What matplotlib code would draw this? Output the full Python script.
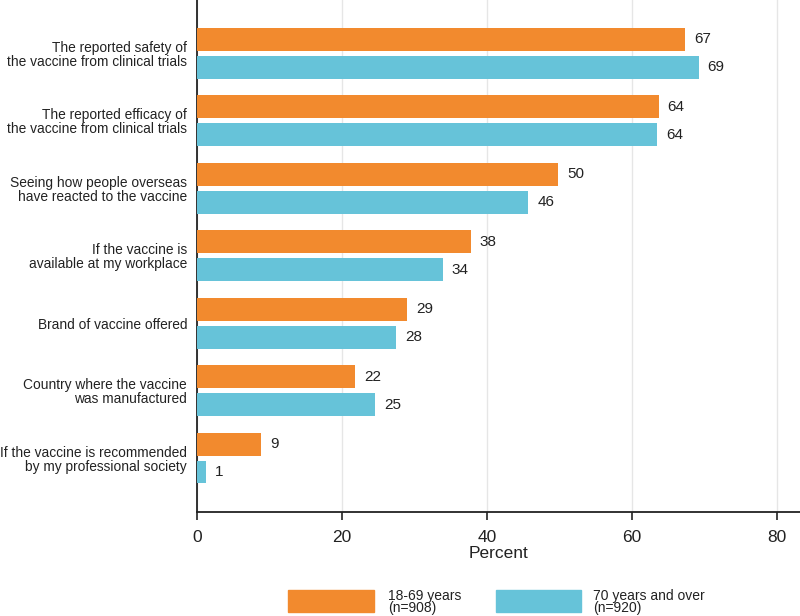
import matplotlib
matplotlib.use("Agg")
import matplotlib.pyplot as plt
import numpy as np
from matplotlib.patches import Rectangle

plt.rcParams['font.family'] = ['Liberation Sans', 'DejaVu Sans']

categories = [
    "The reported safety of\nthe vaccine from clinical trials",
    "The reported efficacy of\nthe vaccine from clinical trials",
    "Seeing how people overseas\nhave reacted to the vaccine",
    "If the vaccine is\navailable at my workplace",
    "Brand of vaccine offered",
    "Country where the vaccine\nwas manufactured",
    "If the vaccine is recommended\nby my professional society",
]
young = [67.4, 63.7, 49.8, 37.8, 29.0, 21.8, 8.9]
old = [69.2, 63.5, 45.7, 33.9, 27.5, 24.6, 1.2]
young_labels = [67, 64, 50, 38, 29, 22, 9]
old_labels = [69, 64, 46, 34, 28, 25, 1]
series_names = ["18-69 years\n(n=908)", "70 years and over\n(n=920)"]
xticks = [0, 20, 40, 60, 80]

c_orange = "#F28A2E"
c_blue = "#66C3D9"
txt = "#222222"

fig = plt.figure(figsize=(8, 6.16), dpi=100)
ax = fig.add_axes([0.246, 1 - 512/616, 0.754, 512/616])

n = len(categories)
y = np.arange(n)
h = 0.34
off = 0.207
ax.barh(y - off, young, height=h, color=c_orange, zorder=3)
ax.barh(y + off, old, height=h, color=c_blue, zorder=3)

for yi, v, lab in zip(y, young, young_labels):
    ax.annotate(str(lab), (v, yi - off), xytext=(6.5, 0), textcoords="offset points",
                va="center", ha="left", fontsize=11, color=txt)
for yi, v, lab in zip(y, old, old_labels):
    ax.annotate(str(lab), (v, yi + off), xytext=(6.5, 0), textcoords="offset points",
                va="center", ha="left", fontsize=11, color=txt)

ax.set_ylim(n - 1 + 0.8, -0.79)
ax.set_xlim(0, 83.2)
ax.set_yticks(y)
ax.set_yticklabels(categories, fontsize=9.9, color=txt, linespacing=1.0)
ax.tick_params(axis="y", length=0, pad=7)
ax.set_xticks(xticks)
ax.set_xticklabels([str(t) for t in xticks], fontsize=12.5, color=txt)
ax.tick_params(axis="x", length=6, width=1.2, color=txt, pad=7)
ax.set_xlabel("Percent", fontsize=12.5, color=txt, labelpad=1)

ax.grid(axis="x", color="#E6E6E6", linewidth=1, zorder=0)
for s in ["top", "right"]:
    ax.spines[s].set_visible(False)
for s in ["left", "bottom"]:
    ax.spines[s].set_color(txt)
    ax.spines[s].set_linewidth(1.3)

# legend
fig.patches.append(Rectangle((288/800, 1-612/616), 86/800, 22/616,
                             transform=fig.transFigure, color=c_orange))
fig.patches.append(Rectangle((496/800, 1-612/616), 85/800, 22/616,
                             transform=fig.transFigure, color=c_blue))
fig.text(388/800, 1-602/616, series_names[0], fontsize=10, va="center", ha="left",
         color=txt, linespacing=0.9)
fig.text(593/800, 1-602/616, series_names[1], fontsize=10, va="center", ha="left",
         color=txt, linespacing=0.9)

fig.savefig("out.png", dpi=100)
